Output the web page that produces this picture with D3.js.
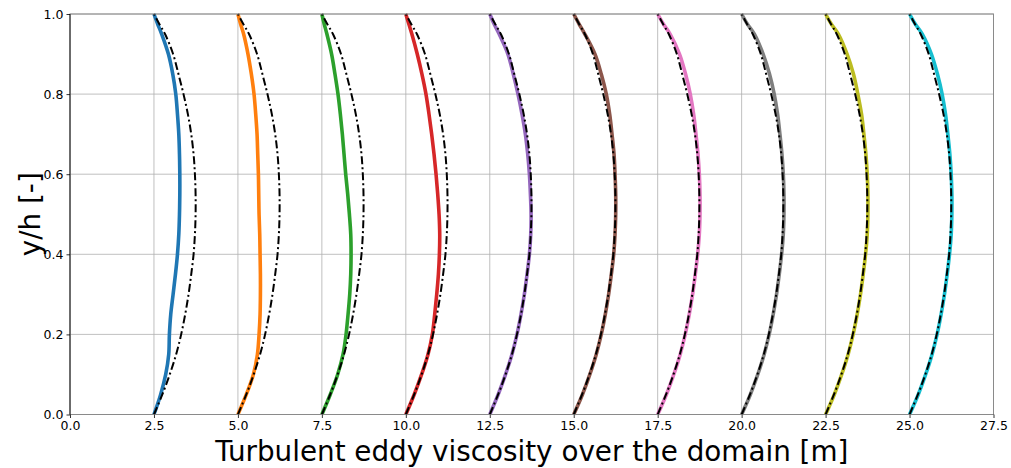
<!DOCTYPE html>
<html>
<head>
<meta charset="utf-8">
<script src="https://cdn.jsdelivr.net/npm/d3@7"></script>
<style>
  html, body { margin: 0; padding: 0; background: #fff; }
  svg { display: block; font-family: "DejaVu Sans", sans-serif; }
</style>
</head>
<body>
<svg id="chart" width="1011" height="468"></svg>
<script>
// Wall-normal sample positions (y/h) shared by every profile
const yLevels = [0, 0.05, 0.1, 0.15, 0.2, 0.25, 0.3, 0.35, 0.4, 0.45, 0.5,
                 0.55, 0.6, 0.65, 0.7, 0.75, 0.8, 0.85, 0.9, 0.95, 0.975, 1];

// Station positions along the domain [m]; each profile is drawn offset from its station
const stations = [2.5, 5, 7.5, 10, 12.5, 15, 17.5, 20, 22.5, 25];

// Reference (analytical) eddy-viscosity profile, offset from the station
const nutRef = [0, 0.25, 0.47, 0.66, 0.81, 0.93, 1.03, 1.11, 1.18, 1.22, 1.24,
                1.24, 1.22, 1.18, 1.11, 1.01, 0.88, 0.73, 0.57, 0.33, 0.16, 0];

// Computed eddy-viscosity profiles at each station (offsets from the station)
const nut1  = [0, 0.20, 0.35, 0.44, 0.46, 0.50, 0.57, 0.64, 0.70, 0.74, 0.76,
               0.77, 0.77, 0.76, 0.74, 0.70, 0.65, 0.56, 0.43, 0.23, 0.11, 0];
const nut2  = [0, 0.25, 0.46, 0.58, 0.63, 0.66, 0.67, 0.67, 0.66, 0.65, 0.63,
               0.62, 0.61, 0.59, 0.57, 0.53, 0.48, 0.40, 0.30, 0.17, 0.08, 0];
const nut3  = [0, 0.25, 0.47, 0.63, 0.72, 0.78, 0.83, 0.86, 0.87, 0.86, 0.82,
               0.77, 0.71, 0.66, 0.61, 0.55, 0.48, 0.39, 0.29, 0.15, 0.07, 0];
const nut4  = [0, 0.25, 0.47, 0.66, 0.79, 0.86, 0.92, 0.97, 1.00, 1.01, 0.99,
               0.95, 0.90, 0.84, 0.77, 0.69, 0.60, 0.48, 0.34, 0.18, 0.09, 0];
const nut5  = [0, 0.25, 0.47, 0.66, 0.81, 0.93, 1.03, 1.11, 1.18, 1.22, 1.23,
               1.21, 1.18, 1.13, 1.06, 0.96, 0.84, 0.70, 0.54, 0.28, 0.13, 0];
const nut6  = [0, 0.26, 0.48, 0.67, 0.82, 0.94, 1.04, 1.12, 1.19, 1.23, 1.25,
               1.25, 1.23, 1.20, 1.14, 1.07, 0.97, 0.82, 0.63, 0.33, 0.16, 0];
const nut7  = [0, 0.26, 0.48, 0.67, 0.82, 0.94, 1.04, 1.12, 1.19, 1.24, 1.26,
               1.26, 1.24, 1.20, 1.14, 1.07, 0.97, 0.83, 0.65, 0.37, 0.17, 0];
const nut8  = [0, 0.26, 0.48, 0.67, 0.82, 0.94, 1.04, 1.12, 1.19, 1.24, 1.26,
               1.26, 1.24, 1.20, 1.14, 1.07, 0.97, 0.83, 0.64, 0.38, 0.17, 0];
const nut9  = [0, 0.26, 0.48, 0.67, 0.82, 0.94, 1.04, 1.12, 1.19, 1.24, 1.26,
               1.26, 1.24, 1.20, 1.14, 1.07, 0.96, 0.83, 0.64, 0.38, 0.17, 0];
const nut10 = [0, 0.26, 0.48, 0.67, 0.82, 0.94, 1.04, 1.12, 1.19, 1.24, 1.26,
               1.26, 1.24, 1.20, 1.14, 1.07, 0.97, 0.83, 0.65, 0.38, 0.17, 0];

const computed = [nut1, nut2, nut3, nut4, nut5, nut6, nut7, nut8, nut9, nut10];

// Axis ticks
const xTicks = [0, 2.5, 5, 7.5, 10, 12.5, 15, 17.5, 20, 22.5, 25, 27.5];
const yTicks = [0, 0.2, 0.4, 0.6, 0.8, 1.0];

const colors = ["#1f77b4", "#ff7f0e", "#2ca02c", "#d62728", "#9467bd",
                "#8c564b", "#e377c2", "#7f7f7f", "#bcbd22", "#17becf"];

const svg = d3.select("#chart");
const margin = { left: 70, right: 1011 - 993.5, top: 14, bottom: 468 - 414.5 };
const W = 1011, H = 468;

const x = d3.scaleLinear().domain([0, 27.5]).range([margin.left, W - margin.right]);
const y = d3.scaleLinear().domain([0, 1]).range([H - margin.bottom, margin.top]);

// Grid
const grid = svg.append("g").attr("stroke", "#b0b0b0").attr("stroke-width", 0.8);
grid.selectAll("line.gx").data(xTicks).join("line")
  .attr("x1", d => x(d)).attr("x2", d => x(d))
  .attr("y1", y(0)).attr("y2", y(1));
grid.selectAll("line.gy").data(yTicks).join("line")
  .attr("y1", d => y(d)).attr("y2", d => y(d))
  .attr("x1", x(0)).attr("x2", x(27.5));

// Profiles
const line = d3.line()
  .x(d => x(d[0]))
  .y(d => y(d[1]))
  .curve(d3.curveCatmullRom.alpha(0.5));

const plot = svg.append("g");
computed.forEach((offs, i) => {
  const pts = offs.map((v, k) => [stations[i] + v, yLevels[k]]);
  plot.append("path")
    .attr("d", line(pts))
    .attr("fill", "none")
    .attr("stroke", colors[i])
    .attr("stroke-width", 3.6)
    .attr("stroke-linejoin", "round")
    .attr("stroke-linecap", "butt");
});
stations.forEach(s => {
  const pts = nutRef.map((v, k) => [s + v, yLevels[k]]);
  plot.append("path")
    .attr("d", line(pts))
    .attr("fill", "none")
    .attr("stroke", "#000")
    .attr("stroke-width", 2)
    .attr("stroke-dasharray", "8,3,2,3");
});

// Spines
svg.append("rect")
  .attr("x", x(0)).attr("y", y(1))
  .attr("width", x(27.5) - x(0)).attr("height", y(0) - y(1))
  .attr("fill", "none").attr("stroke", "#8a8a8a").attr("stroke-width", 1);
svg.append("line")
  .attr("x1", x(0)).attr("x2", x(0)).attr("y1", y(0)).attr("y2", y(1))
  .attr("stroke", "#222").attr("stroke-width", 1);

// Axes
const xAxis = d3.axisBottom(x).tickValues(xTicks).tickFormat(d3.format(".1f"))
  .tickSize(3.5).tickPadding(3);
const yAxis = d3.axisLeft(y).tickValues(yTicks).tickFormat(d3.format(".1f"))
  .tickSize(3.5).tickPadding(3);

const gx = svg.append("g").attr("transform", `translate(0,${y(0)})`).call(xAxis);
const gy = svg.append("g").attr("transform", `translate(${x(0)},0)`).call(yAxis);
[gx, gy].forEach(g => {
  g.select(".domain").remove();
  g.selectAll("text").attr("font-size", 12.5).attr("fill", "#000")
    .attr("font-family", "DejaVu Sans");
  g.selectAll("line").attr("stroke", "#000").attr("stroke-width", 0.8);
});

// Axis titles
svg.append("text")
  .attr("x", (x(0) + x(27.5)) / 2)
  .attr("y", 461)
  .attr("text-anchor", "middle")
  .attr("font-size", 27.8)
  .attr("fill", "#000")
  .text("Turbulent eddy viscosity over the domain [m]");

svg.append("text")
  .attr("transform", `translate(40,${(y(0) + y(1)) / 2}) rotate(-90)`)
  .attr("text-anchor", "middle")
  .attr("font-size", 27.8)
  .attr("fill", "#000")
  .text("y/h [-]");
</script>
</body>
</html>
